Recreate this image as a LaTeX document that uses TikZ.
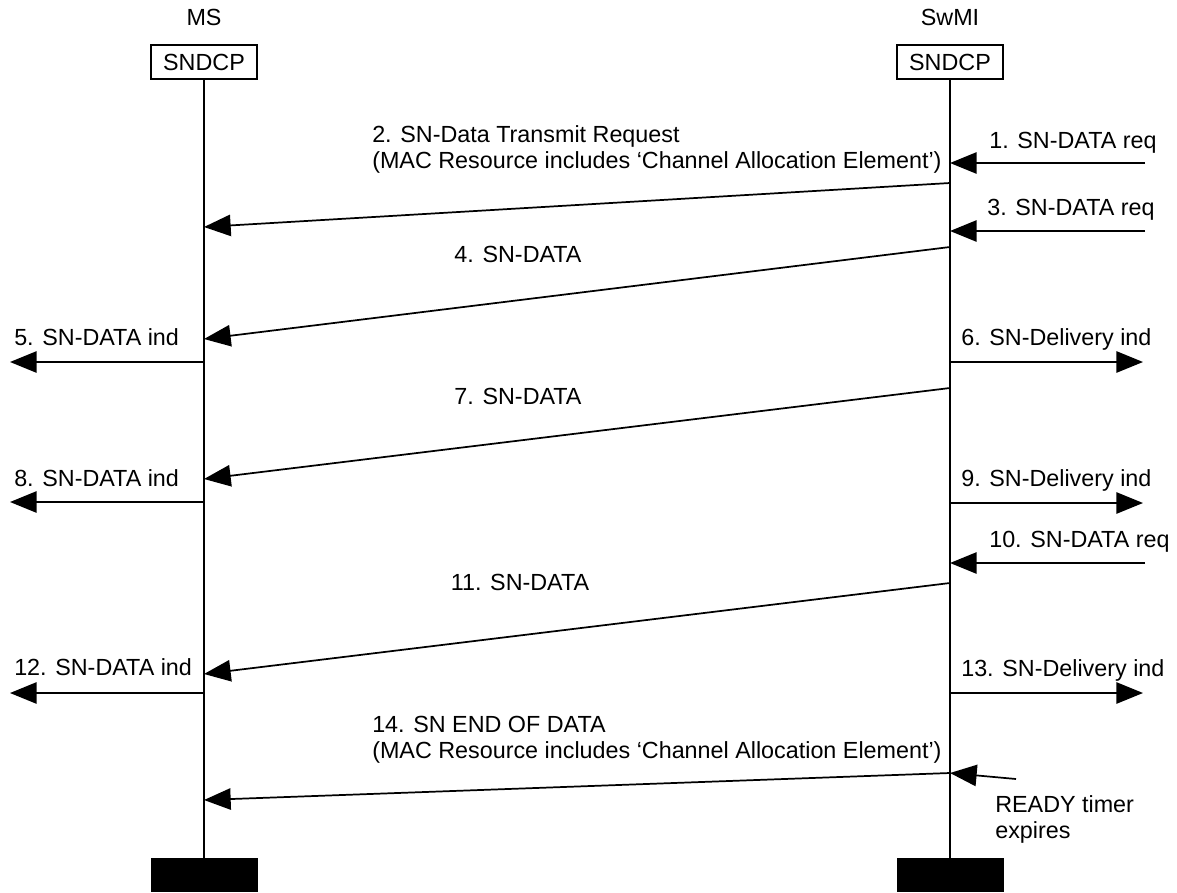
\documentclass[tikz,border=0pt]{standalone}
\usepackage{fontspec}
\setmainfont{Liberation Sans}
\usetikzlibrary{arrows.meta,positioning,calc}

\begin{document}
\begin{tikzpicture}[x=0.75pt,y=-0.75pt,
    every node/.style={font=\fontsize{17.5}{19.5}\selectfont},
    lbl/.style={inner sep=0pt},
    ent/.style={draw,line width=1.4pt,minimum width=79.5pt,minimum height=25.5pt,inner sep=0pt},
    stopbar/.style={fill,minimum width=80.25pt,minimum height=25.5pt,inner sep=0pt,anchor=north},
    msg/.style={line width=1.3pt,-{Triangle[length=20pt,width=16pt]}}]
  \useasboundingbox (0,0) rectangle (1177,892);
  % entities and lifelines
  \node[lbl,anchor=base] (msname) at (204,26) {MS};
  \node[lbl,anchor=base] (swname) at (950,26) {SwMI};
  \node[ent] (ms) at (204,62) {SNDCP};
  \node[ent] (sw) at (950,62) {SNDCP};
  \node[stopbar] (msend) at (204,858) {};
  \node[stopbar] (swend) at (950,858) {};
  \draw[line width=1.4pt] (ms) -- (msend);
  \draw[line width=1.4pt] (sw) -- (swend);

  % points on the lifelines
  \foreach \n/\a/\b in {2/183/227,4/247/339,7/388/479,11/583/674,14/773/800} {
    \coordinate (s\n) at (950,\a);
    \coordinate (m\n) at (204,\b);
  }
  \foreach \n/\y in {1/163,3/231,10/563} {
    \coordinate (x\n) at (1145,\y);
    \coordinate (s\n) at (950,\y);
  }
  \foreach \n/\y in {6/362,9/503,13/693} {
    \coordinate (s\n) at (950,\y);
    \coordinate (x\n) at (1143,\y);
  }
  \foreach \n/\y in {5/362,8/502,12/693} {
    \coordinate (m\n) at (204,\y);
    \coordinate (x\n) at (10,\y);
  }
  \coordinate (ready) at (1016,779);

  % requests from the right
  \draw[msg] (x1) -- (s1);
  \node[lbl,anchor=base west] (t1) at (989,148) {1. SN-DATA req};
  \draw[msg] (x3) -- (s3);
  \node[lbl,anchor=base west] (t3) at (987,215) {3. SN-DATA req};
  \draw[msg] (x10) -- (s10);
  \node[lbl,anchor=base west] (t10) at (989,547) {10. SN-DATA req};

  % air interface
  \draw[msg] (s2) -- (m2);
  \node[lbl,anchor=base west] (t2a) at (372,142) {2. SN-Data Transmit Request};
  \node[lbl,anchor=base west] (t2b) at (372,168) {(MAC Resource includes ‘Channel Allocation Element’)};
  \draw[msg] (s4) -- (m4);
  \node[lbl,anchor=base] (t4) at (518,262) {4. SN-DATA};
  \draw[msg] (s7) -- (m7);
  \node[lbl,anchor=base] (t7) at (518,404) {7. SN-DATA};
  \draw[msg] (s11) -- (m11);
  \node[lbl,anchor=base] (t11) at (520,590) {11. SN-DATA};
  \draw[msg] (s14) -- (m14);
  \node[lbl,anchor=base west] (t14a) at (372,732) {14. SN END OF DATA};
  \node[lbl,anchor=base west] (t14b) at (372,758) {(MAC Resource includes ‘Channel Allocation Element’)};

  % indications
  \foreach \n/\t/\yb in {5/{5. SN-DATA ind}/345,8/{8. SN-DATA ind}/486,12/{12. SN-DATA ind}/675} {
    \draw[msg] (m\n) -- (x\n);
    \node[lbl,anchor=base west] (t\n) at (14,\yb) {\t};
  }
  \foreach \n/\t/\yb in {6/{6. SN-Delivery ind}/345,9/{9. SN-Delivery ind}/486,13/{13. SN-Delivery ind}/676} {
    \draw[msg] (s\n) -- (x\n);
    \node[lbl,anchor=base west] (t\n) at (961,\yb) {\t};
  }

  % timer
  \draw[msg] (ready) -- (s14);
  \node[lbl,anchor=north west,align=left] (tready) at (995,795) {READY timer\\expires};
\end{tikzpicture}
\end{document}
